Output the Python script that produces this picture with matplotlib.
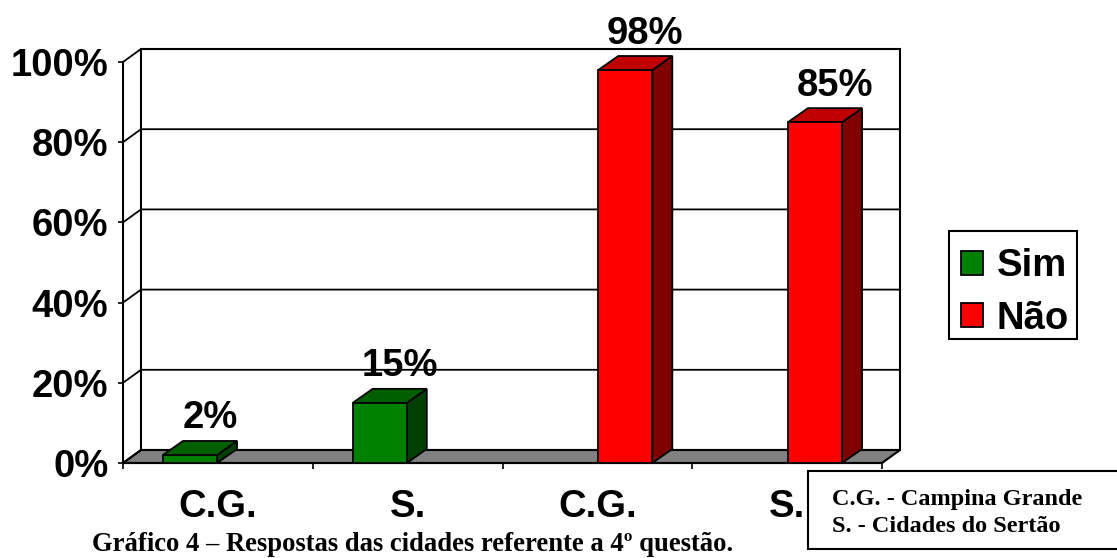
import numpy as np
import matplotlib
matplotlib.use("Agg")
import matplotlib.pyplot as plt
from matplotlib.patches import Polygon, Rectangle

# ---- data -------------------------------------------------------------
categories = ["C.G.", "S.", "C.G.", "S."]
sim = [2, 15, None, None]
nao = [None, None, 98, 85]
yticks = [0, 20, 40, 60, 80, 100]
series_names = ["Sim", "Não"]

# colours: front, top, side
sim_colors = ("#008000", "#006000", "#004000")
nao_colors = ("#ff0000", "#c00000", "#800000")

caption = "Gráfico 4 – Respostas das cidades referente a 4º questão."
note_lines = ["C.G. - Campina Grande", "S. - Cidades do Sertão"]

# ---- figure / axes ----------------------------------------------------
W, H = 1117, 558
fig = plt.figure(figsize=(W / 100, H / 100), dpi=100)
fig.patch.set_facecolor("white")

px_x0, px_x1, px_y0, px_y1 = 123, 882, 463, 62
ax = fig.add_axes([px_x0 / W, 1 - px_y0 / H, (px_x1 - px_x0) / W, (px_y0 - px_y1) / H])
ax.set_xlim(0, 4)
ax.set_ylim(0, 100)
ax.patch.set_visible(False)

ux = (px_x1 - px_x0) / 4.0      # pixels per category
uy = (px_y0 - px_y1) / 100.0    # pixels per percent
DX, DY = 18 / ux, 13 / uy       # depth of the walls
BDX, BDY = 20 / ux, 14 / uy     # depth of the bars

sans = "Liberation Sans"
serif = "Liberation Serif"
FS = 27.5

# back wall and floor
ax.add_patch(Rectangle((DX, DY), 4, 100, facecolor="white", edgecolor="black",
                       lw=1.5, clip_on=False, zorder=0))
ax.add_patch(Polygon([(0, 0), (4, 0), (4 + DX, DY), (DX, DY)], closed=True,
                     facecolor="#808080", edgecolor="black", lw=1.5,
                     clip_on=False, zorder=1))

# gridlines running along the left wall and the back wall
for v in yticks:
    if 0 < v < 100:
        ax.plot([0, DX, 4 + DX], [v, v + DY, v + DY], color="black", lw=1.3,
                clip_on=False, zorder=1)
    else:
        ax.plot([0, DX], [v, v + DY], color="black", lw=1.3,
                clip_on=False, zorder=1)

# spines and ticks
for s in ("top", "right"):
    ax.spines[s].set_visible(False)
for s in ("left", "bottom"):
    ax.spines[s].set_linewidth(1.5)
    ax.spines[s].set_zorder(2)

ax.set_yticks(yticks)
ax.set_yticklabels([f"{v}%" for v in yticks], fontsize=FS, fontweight="bold",
                   family=sans)
ax.tick_params(axis="y", direction="out", length=3.6, width=1.2, pad=7)

ax.set_xticks(range(5))
ax.set_xticklabels([""] * 5)
ax.set_xticks(np.arange(4) + 0.5, minor=True)
ax.set_xticklabels(categories, minor=True, fontsize=FS, fontweight="bold",
                   family=sans)
ax.tick_params(axis="x", which="major", direction="out", length=4.3, width=1.2)
ax.tick_params(axis="x", which="minor", length=0, pad=19)

# ---- 3D-looking bars --------------------------------------------------
BW = 0.285
OFF = 0.147
handles = []
for name, values, cols, sign in ((series_names[0], sim, sim_colors, -1),
                                 (series_names[1], nao, nao_colors, 1)):
    front, top, side = cols
    first = None
    for i, v in enumerate(values):
        if v is None:
            continue
        xl = i + 0.5 + sign * OFF - BW / 2
        xr = xl + BW
        ax.add_patch(Polygon([(xr, 0), (xr + BDX, BDY), (xr + BDX, v + BDY), (xr, v)],
                             closed=True, facecolor=side, edgecolor="black",
                             lw=1.3, clip_on=False, zorder=3))
        ax.add_patch(Polygon([(xl, v), (xr, v), (xr + BDX, v + BDY), (xl + BDX, v + BDY)],
                             closed=True, facecolor=top, edgecolor="black",
                             lw=1.3, clip_on=False, zorder=3))
        bars = ax.bar(xl, v, width=BW, align="edge", color=front,
                      edgecolor="black", lw=1.3, zorder=4, clip_on=False)
        if first is None:
            first = bars
        ax.annotate(f"{v}%", xy=(xl + BW / 2 + BDX, v + BDY), xytext=(0, 9),
                    textcoords="offset points", ha="center", va="baseline",
                    fontsize=FS, fontweight="bold", family=sans, zorder=5,
                    annotation_clip=False)
    handles.append(first)

# ---- legend (frame drawn separately) ----------------------------------
fig.add_artist(Rectangle((949 / W, 1 - 339 / H), (1077 - 949) / W, (339 - 231) / H,
                         transform=fig.transFigure, facecolor="white",
                         edgecolor="black", lw=1.5, zorder=1))
leg = fig.legend(handles, series_names, loc="center left",
                 bbox_to_anchor=(961 / W, 1 - 292.5 / H), borderaxespad=0,
                 frameon=False, handlelength=0.58, handleheight=0.58,
                 handletextpad=0.36, borderpad=0, labelspacing=0.42,
                 prop=dict(family=sans, weight="bold", size=FS))
leg.set_zorder(2)

# ---- note box and caption ---------------------------------------------
fig.add_artist(Rectangle((808 / W, 1 - 549 / H), (1140 - 808) / W, (549 - 471) / H,
                         transform=fig.transFigure, facecolor="white",
                         edgecolor="black", lw=1.5))
for k, line in enumerate(note_lines):
    fig.text(832 / W, 1 - (505 + 27 * k) / H, line, family=serif,
             fontweight="bold", fontsize=17.5, va="baseline", ha="left")

fig.text(92 / W, 1 - 551 / H, caption, family=serif, fontweight="bold",
         fontsize=19.2, va="baseline", ha="left")

fig.savefig("out.png", dpi=100)
